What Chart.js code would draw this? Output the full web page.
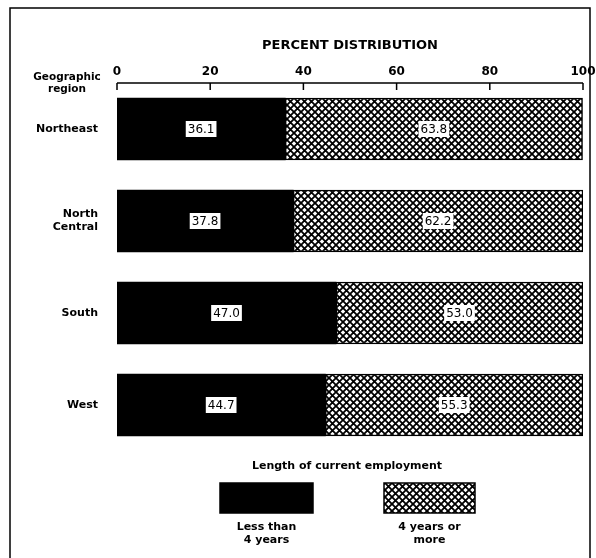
<!DOCTYPE html>
<html>
<head>
<meta charset="utf-8">
<script src="https://cdn.jsdelivr.net/npm/chart.js@4.4.1/dist/chart.umd.min.js"></script>
<style>
  html, body { margin: 0; padding: 0; background: #fff; }
  #wrap { width: 596px; height: 558px; }
</style>
</head>
<body>
<div id="wrap"><canvas id="chart"></canvas></div>
<script>
const regions = ['Northeast', ['North', 'Central'], 'South', 'West'];
const lessThan4 = [36.1, 37.8, 47.0, 44.7];
const fourOrMore = [63.8, 62.2, 53.0, 55.3];
const seriesNames = [['Less than', '4 years'], ['4 years or', 'more']];
const tickValues = [0, 20, 40, 60, 80, 100];

const FONT = '"DejaVu Sans", Verdana, sans-serif';

// crosshatch fill
function makeHatch() {
  const n = 7;
  const c = document.createElement('canvas');
  c.width = n; c.height = n;
  const p = c.getContext('2d');
  p.fillStyle = '#fff';
  p.fillRect(0, 0, n, n);
  p.strokeStyle = '#000';
  p.lineWidth = 1.8;
  p.beginPath();
  p.moveTo(-1, -1); p.lineTo(n + 1, n + 1);
  p.moveTo(n + 1, -1); p.lineTo(-1, n + 1);
  p.stroke();
  return p.createPattern(c, 'repeat');
}
const hatch = makeHatch();

const extras = {
  id: 'extras',
  afterDraw(chart) {
    const ctx = chart.ctx;
    const xs = chart.scales.x;
    const top = chart.chartArea.top;
    ctx.save();

    // frame
    ctx.strokeStyle = '#000';
    ctx.lineWidth = 1.5;
    ctx.strokeRect(10, 8, 580, 560);

    // axis line with downward ticks
    ctx.beginPath();
    ctx.moveTo(xs.getPixelForValue(0), top);
    ctx.lineTo(xs.getPixelForValue(100), top);
    tickValues.forEach(v => {
      const x = xs.getPixelForValue(v);
      ctx.moveTo(x, top);
      ctx.lineTo(x, top + 7);
    });
    ctx.stroke();

    // axis caption on the left
    ctx.fillStyle = '#000';
    ctx.font = 'bold 10.5px ' + FONT;
    ctx.textAlign = 'center';
    ctx.textBaseline = 'middle';
    ctx.fillText('Geographic', 67, 77);
    ctx.fillText('region', 67, 89);

    // value labels in white boxes
    ctx.font = '12px ' + FONT;
    chart.data.datasets.forEach((ds, di) => {
      chart.getDatasetMeta(di).data.forEach((bar, i) => {
        const txt = ds.data[i].toFixed(1);
        const cx = (bar.x + bar.base) / 2;
        const cy = bar.y;
        const w = ctx.measureText(txt).width + 4;
        ctx.fillStyle = '#fff';
        ctx.fillRect(cx - w / 2, cy - 8, w, 16);
        ctx.fillStyle = '#000';
        ctx.fillText(txt, cx, cy + 1);
      });
    });

    // legend
    ctx.font = 'bold 11px ' + FONT;
    ctx.fillText('Length of current employment', 347, 466);
    const boxes = [[220, 93], [384, 91]];
    chart.data.datasets.forEach((ds, di) => {
      const [bx, bw] = boxes[di];
      ctx.fillStyle = ds.backgroundColor;
      ctx.fillRect(bx, 483, bw, 30);
      ctx.strokeStyle = '#000';
      ctx.lineWidth = 1.5;
      ctx.strokeRect(bx, 483, bw, 30);
      ctx.fillStyle = '#000';
      seriesNames[di].forEach((line, li) => {
        ctx.fillText(line, bx + bw / 2, 527 + li * 13);
      });
    });

    ctx.restore();
  }
};

new Chart(document.getElementById('chart'), {
  type: 'bar',
  data: {
    labels: regions,
    datasets: [
      {
        label: 'Less than 4 years',
        data: lessThan4,
        backgroundColor: '#000',
        borderWidth: 0
      },
      {
        label: '4 years or more',
        data: fourOrMore,
        backgroundColor: hatch,
        borderColor: '#000',
        borderWidth: 1.5,
        borderSkipped: false
      }
    ]
  },
  options: {
    indexAxis: 'y',
    responsive: true,
    maintainAspectRatio: false,
    animation: false,
    devicePixelRatio: 1,
    layout: { padding: { top: 30, right: 13, bottom: 107, left: 0 } },
    datasets: { bar: { barThickness: 62 } },
    plugins: {
      legend: { display: false },
      tooltip: { enabled: false }
    },
    scales: {
      x: {
        position: 'top',
        stacked: true,
        min: 0,
        max: 100,
        grid: { display: false, tickLength: 0 },
        border: { display: false },
        ticks: {
          stepSize: 20,
          color: '#000',
          padding: 4,
          font: { family: FONT, size: 12, weight: 'bold' }
        },
        title: {
          display: true,
          text: 'PERCENT DISTRIBUTION',
          color: '#000',
          font: { family: FONT, size: 13, weight: 'bold' },
          padding: { top: 8, bottom: 8 }
        },
        afterFit(s) {
          s.height = 53;
          s.paddingLeft = 0;
          s.paddingRight = 0;
        }
      },
      y: {
        stacked: true,
        grid: { display: false, tickLength: 0 },
        border: { display: false },
        ticks: {
          color: '#000',
          padding: 19,
          font: { family: FONT, size: 11, weight: 'bold' }
        },
        afterFit(s) { s.width = 117; }
      }
    }
  },
  plugins: [extras]
});
</script>
</body>
</html>
